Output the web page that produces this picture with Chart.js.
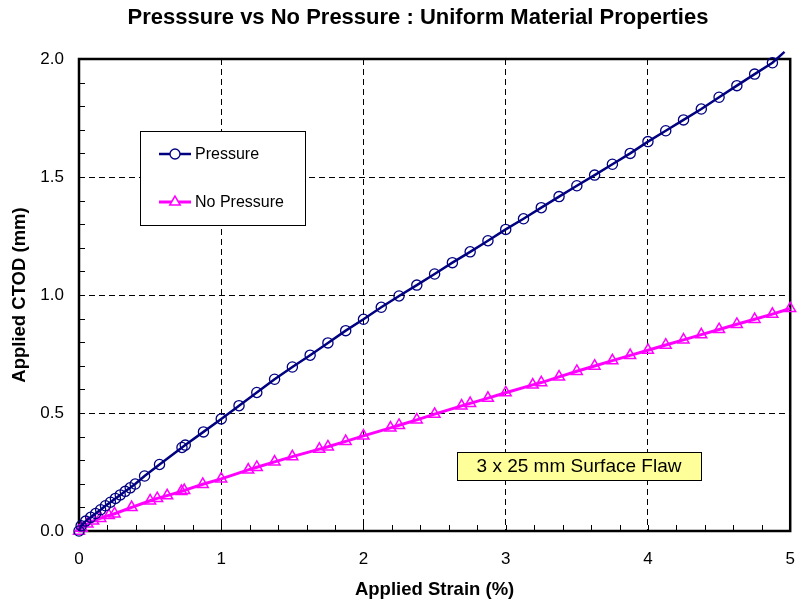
<!DOCTYPE html>
<html>
<head>
<meta charset="utf-8">
<title>CTOD vs Strain</title>
<script src="https://cdn.jsdelivr.net/npm/chart.js@4.4.1/dist/chart.umd.min.js"></script>
<style>
  html, body { margin: 0; padding: 0; background: #fff; }
  canvas { display: block; }
</style>
</head>
<body>
<canvas id="ctod-chart" width="798" height="604"></canvas>
<script>
// Applied strain (%) and CTOD (mm), with internal pressure
const pressureStrain = [0, 0.015, 0.047, 0.082, 0.117, 0.152, 0.186, 0.221, 0.256, 0.29, 0.325, 0.36, 0.395,
    0.461, 0.566, 0.724, 0.747, 0.875, 1.0, 1.125, 1.25, 1.375, 1.5, 1.625, 1.75, 1.875, 2.0, 2.125, 2.25,
    2.375, 2.5, 2.625, 2.75, 2.875, 3.0, 3.125, 3.25, 3.375, 3.5, 3.625, 3.75, 3.875, 4.0, 4.125, 4.25,
    4.375, 4.5, 4.625, 4.75, 4.875, 4.96];
const pressureCtod = [0, 0.022, 0.042, 0.058, 0.074, 0.09, 0.107, 0.122, 0.138, 0.153, 0.168, 0.183, 0.199,
    0.233, 0.282, 0.354, 0.364, 0.42, 0.475, 0.531, 0.587, 0.643, 0.695, 0.745, 0.797, 0.849, 0.897, 0.948, 0.996,
    1.042, 1.089, 1.137, 1.183, 1.23, 1.278, 1.323, 1.37, 1.417, 1.463, 1.508, 1.554, 1.6, 1.65, 1.696, 1.742,
    1.788, 1.838, 1.887, 1.936, 1.984, 2.03];

// Same flaw without pressure
const noPressureStrain = [0, 0.02, 0.06, 0.1, 0.15, 0.21, 0.25, 0.37, 0.5, 0.55, 0.62, 0.72, 0.74, 0.87, 1.0,
    1.19, 1.25, 1.375, 1.5, 1.69, 1.75, 1.875, 2.0, 2.19, 2.25, 2.375, 2.5, 2.69, 2.75, 2.875, 3.0, 3.19, 3.25,
    3.375, 3.5, 3.625, 3.75, 3.875, 4.0, 4.125, 4.25, 4.375, 4.5, 4.625, 4.75, 4.875, 5.0];
const noPressureCtod = [0, 0.012, 0.03, 0.043, 0.054, 0.066, 0.073, 0.1, 0.128, 0.138, 0.15, 0.168, 0.172, 0.198, 0.221,
    0.259, 0.27, 0.293, 0.315, 0.347, 0.357, 0.38, 0.403, 0.437, 0.448, 0.471, 0.495, 0.53, 0.541, 0.563, 0.586, 0.619, 0.629,
    0.653, 0.677, 0.699, 0.722, 0.744, 0.766, 0.788, 0.81, 0.832, 0.854, 0.876, 0.897, 0.919, 0.943];

const seriesLabels = ['Pressure', 'No Pressure'];
const xTickLabels = ['0', '1', '2', '3', '4', '5'];
const yTickLabels = ['0.0', '0.5', '1.0', '1.5', '2.0'];
const chartTitle = 'Presssure vs No Pressure : Uniform Material Properties';
const noteText = '3 x 25 mm Surface Flaw';

const FONT = "'Liberation Sans', Arial, sans-serif";
const NAVY = '#000080';
const MAGENTA = '#FF00FF';

const toPoints = (xs, ys) => xs.map((x, i) => ({ x: x, y: ys[i] }));

// dashed grid only on the interior major lines
function interiorGrid(min, max) {
    return ctx => (ctx.tick && ctx.tick.value > min && ctx.tick.value < max) ? '#000' : 'rgba(0,0,0,0)';
}

// plot frame plus small inward tick marks
const frameTicks = {
    id: 'frameTicks',
    beforeDatasetsDraw(chart) {
        const { ctx, chartArea: a, scales: { x, y } } = chart;
        ctx.save();
        ctx.strokeStyle = '#000';
        ctx.lineWidth = 1;
        ctx.beginPath();
        for (let v = 0; v <= 5.0001; v += 0.2) {
            const px = Math.round(x.getPixelForValue(v)) + 0.5;
            ctx.moveTo(px, a.bottom);
            ctx.lineTo(px, a.bottom - 6);
        }
        for (let v = 0; v <= 2.0001; v += 0.1) {
            const py = Math.round(y.getPixelForValue(v)) + 0.5;
            ctx.moveTo(a.left, py);
            ctx.lineTo(a.left + 6, py);
        }
        ctx.stroke();
        ctx.lineWidth = 2.5;
        ctx.strokeRect(a.left, a.top, a.right - a.left, a.bottom - a.top);
        ctx.restore();
    }
};

// title, boxed legend inside the plot and the flaw note
const boxes = {
    id: 'boxes',
    afterDatasetsDraw(chart) {
        const { ctx, chartArea: a } = chart;
        ctx.save();

        ctx.fillStyle = '#000';
        ctx.font = 'bold 22px ' + FONT;
        ctx.textAlign = 'center';
        ctx.textBaseline = 'middle';
        ctx.fillText(chartTitle, 418, 18);

        const lx = a.left + 61, ly = a.top + 72, lw = 165, lh = 94;
        ctx.fillStyle = '#fff';
        ctx.fillRect(lx, ly, lw, lh);
        ctx.strokeStyle = '#000';
        ctx.lineWidth = 1;
        ctx.strokeRect(lx + 0.5, ly + 0.5, lw, lh);

        chart.data.datasets.forEach((ds, i) => {
            const cy = ly + 23 + i * 48;
            const x0 = lx + 19, x1 = lx + 51, cx = (x0 + x1) / 2;
            ctx.strokeStyle = ds.borderColor;
            ctx.lineWidth = ds.borderWidth;
            ctx.beginPath();
            ctx.moveTo(x0, cy);
            ctx.lineTo(x1, cy);
            ctx.stroke();
            ctx.fillStyle = '#fff';
            ctx.strokeStyle = ds.pointBorderColor;
            ctx.lineWidth = ds.pointBorderWidth;
            Chart.helpers.drawPoint(ctx, {
                pointStyle: ds.pointStyle,
                radius: ds.pointStyle === 'triangle' ? 6 : 5,
                borderWidth: ds.pointBorderWidth
            }, cx, cy);
            ctx.fillStyle = '#000';
            ctx.font = '16px ' + FONT;
            ctx.textBaseline = 'middle';
            ctx.textAlign = 'left';
            ctx.fillText(ds.label, x1 + 4, cy + 1);
        });

        const nx = a.left + 378, ny = a.top + 393, nw = 244, nh = 28;
        ctx.fillStyle = '#FFFF99';
        ctx.fillRect(nx, ny, nw, nh);
        ctx.strokeStyle = '#000';
        ctx.lineWidth = 1;
        ctx.strokeRect(nx + 0.5, ny + 0.5, nw, nh);
        ctx.fillStyle = '#000';
        ctx.font = '19px ' + FONT;
        ctx.textAlign = 'center';
        ctx.textBaseline = 'middle';
        ctx.fillText(noteText, nx + nw / 2, ny + nh / 2 + 1);
        ctx.restore();
    }
};

const chart = new Chart(document.getElementById('ctod-chart'), {
    type: 'scatter',
    data: {
        datasets: [{
            label: seriesLabels[0],
            data: toPoints(pressureStrain, pressureCtod),
            showLine: true,
            borderColor: NAVY,
            backgroundColor: 'rgba(0,0,0,0)',
            borderWidth: 2.5,
            pointStyle: 'circle',
            pointRadius: ctx => ctx.dataIndex === pressureStrain.length - 1 ? 0 : 5.1,
            pointBorderWidth: 1.3,
            pointBorderColor: NAVY,
            pointBackgroundColor: 'rgba(0,0,0,0)',
            clip: false
        }, {
            label: seriesLabels[1],
            data: toPoints(noPressureStrain, noPressureCtod),
            showLine: true,
            borderColor: MAGENTA,
            backgroundColor: 'rgba(0,0,0,0)',
            borderWidth: 3,
            pointStyle: 'triangle',
            pointRadius: 6.3,
            pointBorderWidth: 1.5,
            pointBorderColor: MAGENTA,
            pointBackgroundColor: 'rgba(0,0,0,0)',
            clip: false
        }]
    },
    options: {
        responsive: false,
        animation: false,
        devicePixelRatio: 1,
        layout: { padding: { top: 59, right: 3, bottom: 0, left: 0 } },
        plugins: {
            legend: { display: false },
            tooltip: { enabled: false },
            title: { display: false }
        },
        scales: {
            x: {
                type: 'linear',
                min: 0,
                max: 5,
                afterFit: s => { s.height = 73; s.paddingLeft = 0; s.paddingRight = 0; },
                ticks: {
                    stepSize: 1,
                    padding: 18,
                    color: '#000',
                    font: { family: FONT, size: 17 },
                    callback: v => xTickLabels[Math.round(v)]
                },
                grid: { color: interiorGrid(0, 5), lineWidth: 1, drawTicks: false },
                border: { display: false, dash: [6, 4] },
                title: {
                    display: true,
                    text: 'Applied Strain (%)',
                    color: '#000',
                    font: { family: FONT, size: 18.5, weight: 'bold' },
                    padding: { top: 0, bottom: 3 }
                }
            },
            y: {
                type: 'linear',
                min: 0,
                max: 2,
                afterFit: s => { s.width = 79; s.paddingTop = 0; s.paddingBottom = 0; },
                ticks: {
                    stepSize: 0.5,
                    padding: 15,
                    color: '#000',
                    font: { family: FONT, size: 17 },
                    callback: v => yTickLabels[Math.round(v * 2)]
                },
                grid: { color: interiorGrid(0, 2), lineWidth: 1, drawTicks: false },
                border: { display: false, dash: [6, 4] },
                title: {
                    display: true,
                    text: 'Applied CTOD (mm)',
                    color: '#000',
                    font: { family: FONT, size: 18.5, weight: 'bold' },
                    padding: { top: 9, bottom: 0 }
                }
            }
        }
    },
    plugins: [frameTicks, boxes]
});
</script>
</body>
</html>
